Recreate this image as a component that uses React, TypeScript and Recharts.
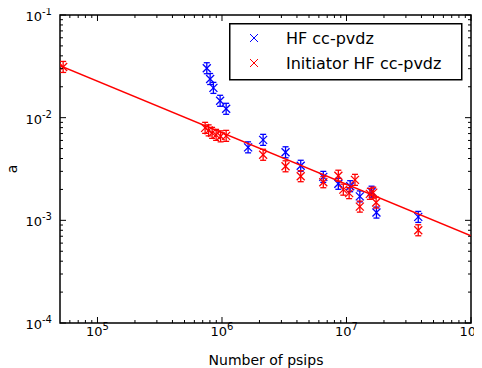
import React from 'react';
import { ScatterChart, Scatter, XAxis, YAxis, ReferenceArea } from 'recharts';

// ---- data ----
const hfPsips = [7.55e5, 8.03e5, 8.53e5, 9.66e5, 1.08e6, 1.62e6, 2.14e6, 3.24e6, 4.29e6, 6.51e6, 8.6e6, 1.07e7, 1.28e7, 1.59e7, 1.74e7, 3.77e7];
const hfA = [0.0303, 0.0238, 0.0195, 0.0146, 0.0122, 0.00514, 0.00608, 0.0046, 0.0034, 0.00265, 0.00227, 0.00215, 0.00171, 0.0019, 0.00119, 0.00108];
const initPsips = [5.3e4, 7.32e5, 7.81e5, 8.33e5, 8.97e5, 9.75e5, 1.08e6, 2.14e6, 3.24e6, 4.29e6, 6.51e6, 8.6e6, 9.43e6, 1.05e7, 1.17e7, 1.28e7, 1.54e7, 1.64e7, 1.73e7, 3.77e7];
const initA = [0.0312, 0.00796, 0.00752, 0.00711, 0.0068, 0.00658, 0.00665, 0.00435, 0.00336, 0.00269, 0.00235, 0.00272, 0.00199, 0.00184, 0.00248, 0.00136, 0.00181, 0.00186, 0.00149, 0.0008];
const fitPsips = [5e4, 1e8];
const fitA = [0.0321, 0.000708];

const seriesNames = ['HF cc-pvdz', 'Initiator HF cc-pvdz'];
const xMajorTicks = [1e5, 1e6, 1e7, 1e8];
const xMajorExp = ['5', '6', '7', '8'];
const yMajorTicks = [1e-4, 1e-3, 1e-2, 1e-1];
const yMajorExp = ['-4', '-3', '-2', '-1'];
const xDomain = [5e4, 1e8];
const yDomain = [1e-4, 1e-1];
const mantissas = [2, 3, 4, 5, 6, 7, 8, 9];

// ---- layout ----
const W = 474;
const H = 360;
const PLOT_W = 411;
const PLOT_H = 308;
const BLUE = '#0000ff';
const RED = '#ff0000';
const FONT = 'DejaVu Sans, sans-serif';

const hfData = hfPsips.map((x, i) => ({ x, y: hfA[i] }));
const initData = initPsips.map((x, i) => ({ x, y: initA[i] }));
const fitData = fitPsips.map((x, i) => ({ x, y: fitA[i] }));

const xMinor: number[] = [];
[1e4, 1e5, 1e6, 1e7].forEach((d) => mantissas.forEach((m) => {
  const v = m * d;
  if (v > xDomain[0] && v < xDomain[1]) xMinor.push(v);
}));
const yMinor: number[] = [];
[1e-4, 1e-3, 1e-2].forEach((d) => mantissas.forEach((m) => yMinor.push(m * d)));

const xTicks = [...xMinor, ...xMajorTicks].sort((a, b) => a - b);
const yTicks = [...yMinor, ...yMajorTicks].sort((a, b) => a - b);

const majorIndex = (v: number, list: number[]) =>
  list.findIndex((t) => Math.abs(Math.log10(t) - Math.log10(v)) < 1e-6);

const XTick = (props: any) => {
  const { x, y, payload } = props;
  const idx = majorIndex(payload.value, xMajorTicks);
  const len = idx >= 0 ? 6 : 3;
  return (
    <g>
      <line x1={x} y1={y} x2={x} y2={y - len} stroke="#000" strokeWidth={1} />
      <line x1={x} y1={y - PLOT_H} x2={x} y2={y - PLOT_H + len} stroke="#000" strokeWidth={1} />
      {idx >= 0 && (
        <text x={x} y={y + 13} textAnchor="middle" fontSize={13} fontFamily={FONT} fill="#000">
          <tspan>10</tspan>
          <tspan dy={-6} fontSize={10}>{xMajorExp[idx]}</tspan>
        </text>
      )}
    </g>
  );
};

const YTick = (props: any) => {
  const { x, y, payload } = props;
  const idx = majorIndex(payload.value, yMajorTicks);
  const len = idx >= 0 ? 6 : 3;
  return (
    <g>
      <line x1={x} y1={y} x2={x + len} y2={y} stroke="#000" strokeWidth={1} />
      <line x1={x + PLOT_W} y1={y} x2={x + PLOT_W - len} y2={y} stroke="#000" strokeWidth={1} />
      {idx >= 0 && (
        <text x={x - 8} y={y + 6} textAnchor="end" fontSize={13} fontFamily={FONT} fill="#000">
          <tspan>10</tspan>
          <tspan dy={-6} fontSize={10}>{yMajorExp[idx]}</tspan>
        </text>
      )}
    </g>
  );
};

const makeStar = (color: string) => (props: any) => {
  const { cx, cy } = props;
  if (cx == null || cy == null) return <g />;
  return (
    <g stroke={color} strokeWidth={1.3}>
      <line x1={cx - 4} y1={cy - 4} x2={cx + 4} y2={cy + 4} />
      <line x1={cx - 4} y1={cy + 4} x2={cx + 4} y2={cy - 4} />
      <line x1={cx} y1={cy - 5.5} x2={cx} y2={cy + 5.5} />
      <line x1={cx - 3} y1={cy - 5.5} x2={cx + 3} y2={cy - 5.5} />
      <line x1={cx - 3} y1={cy + 5.5} x2={cx + 3} y2={cy + 5.5} />
    </g>
  );
};

const Cross = ({ x, y, color }: { x: number; y: number; color: string }) => (
  <g stroke={color} strokeWidth={1}>
    <line x1={x - 4} y1={y - 4} x2={x + 4} y2={y + 4} />
    <line x1={x - 4} y1={y + 4} x2={x + 4} y2={y - 4} />
  </g>
);

export default function App() {
  return (
    <div style={{ position: 'relative', width: W, height: H }}>
      <ScatterChart width={W} height={H} margin={{ top: 7, right: 11, left: 0, bottom: 0 }}>
        <XAxis
          type="number"
          dataKey="x"
          scale="log"
          domain={xDomain}
          allowDataOverflow
          ticks={xTicks}
          interval={0}
          tick={<XTick />}
          tickLine={false}
          tickSize={0}
          tickMargin={0}
          axisLine={false}
          height={45}
          label={() => (
            <text x={258} y={357} textAnchor="middle" fontSize={14} fontFamily={FONT} fill="#000">
              Number of psips
            </text>
          )}
        />
        <YAxis
          type="number"
          dataKey="y"
          scale="log"
          domain={yDomain}
          allowDataOverflow
          ticks={yTicks}
          interval={0}
          tick={<YTick />}
          tickLine={false}
          tickSize={0}
          tickMargin={0}
          axisLine={false}
          width={52}
          label={() => (
            <text x={9} y={161} transform="rotate(-90, 9, 161)" textAnchor="middle" fontSize={14} fontFamily={FONT} fill="#000">
              a
            </text>
          )}
        />
        <ReferenceArea
          x1={xDomain[0]}
          x2={xDomain[1]}
          y1={yDomain[0]}
          y2={yDomain[1]}
          fill="none"
          stroke="#000"
          strokeWidth={1.5}
          fillOpacity={0}
        />
        <Scatter name={seriesNames[0]} data={hfData} shape={makeStar(BLUE)} isAnimationActive={false} />
        <Scatter name={seriesNames[1]} data={initData} shape={makeStar(RED)} isAnimationActive={false} />
        <Scatter
          name="fit"
          data={fitData}
          line={{ stroke: RED, strokeWidth: 1.4 }}
          shape={() => <g />}
          isAnimationActive={false}
        />
      </ScatterChart>
      <svg width={234} height={58} style={{ position: 'absolute', left: 221, top: 15 }}>
        <rect x={0.75} y={0.75} width={232} height={56} fill="#fff" stroke="#000" strokeWidth={1.5} />
        <Cross x={25} y={15} color={BLUE} />
        <Cross x={25} y={40} color={RED} />
        <text x={57} y={21} fontSize={16} fontFamily={FONT} fill="#000">{seriesNames[0]}</text>
        <text x={57} y={46} fontSize={16} fontFamily={FONT} fill="#000">{seriesNames[1]}</text>
      </svg>
    </div>
  );
}
